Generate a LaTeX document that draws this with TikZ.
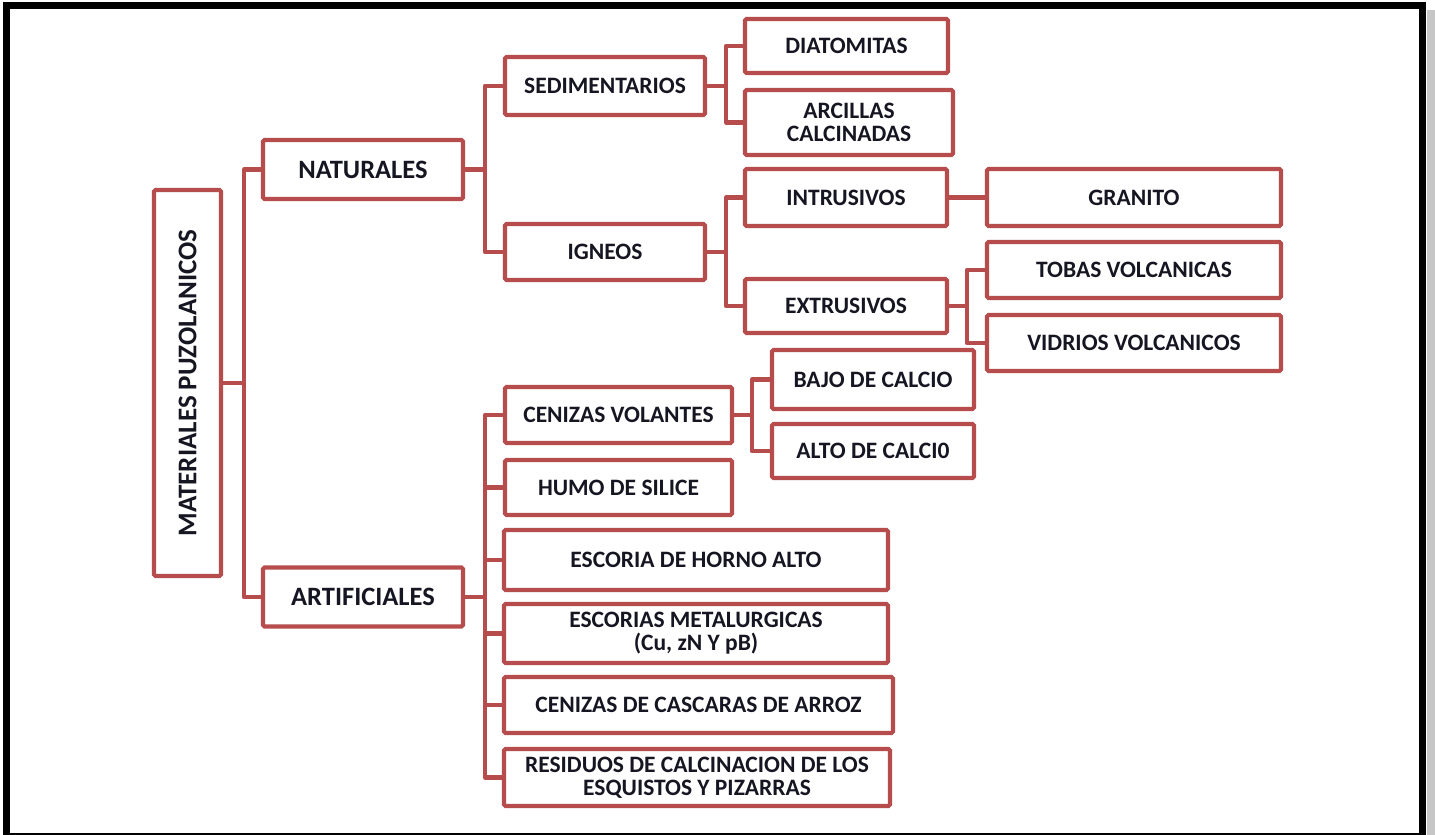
\documentclass[tikz,border=0pt]{standalone}
\usepackage{fontspec}
\setmainfont{Carlito}
\definecolor{boxred}{RGB}{183,76,76}
\definecolor{txt}{RGB}{22,22,34}
\begin{document}
\begin{tikzpicture}[x=1pt,y=-1pt,
  box/.style={draw=boxred,line width=4.2pt,rounded corners=1.5pt,fill=white,inner sep=0pt,outer sep=0pt,
    align=center,text=txt,font=\fontsize{23.5}{23}\selectfont\bfseries},
  bigbox/.style={box,font=\fontsize{26.5}{28}\selectfont\bfseries},
  conn/.style={draw=boxred,line width=4.2pt,line join=round}]
\useasboundingbox (0,0) rectangle (1435,835);
\fill[white] (0,0) rectangle (1435,835);
% frame
\fill[gray!45] (1427,10) rectangle (1435,835);
\draw[line width=7pt,black] (6.5,5) rectangle (1422.5,836);
% nodes
\node[box,minimum width=67,minimum height=386,font=\fontsize{27}{28}\selectfont\bfseries] (main) at (187.5,383) {\rotatebox{90}{MATERIALES PUZOLANICOS}};
\node[bigbox,minimum width=200,minimum height=59] (nat) at (363,169.5) {NATURALES};
\node[bigbox,minimum width=200,minimum height=59] (art) at (363,597) {ARTIFICIALES};
\node[box,minimum width=200,minimum height=58] (sed) at (605,86) {SEDIMENTARIOS};
\node[box,minimum width=200,minimum height=56] (ign) at (605,252) {IGNEOS};
\node[box,minimum width=203,minimum height=54] (dia) at (846.5,46) {DIATOMITAS};
\node[box,minimum width=208,minimum height=65] (arc) at (849,122.5) {ARCILLAS\\CALCINADAS};
\node[box,minimum width=202,minimum height=57] (intr) at (846,197.5) {INTRUSIVOS};
\node[box,minimum width=202,minimum height=54] (extr) at (846,306) {EXTRUSIVOS};
\node[box,minimum width=294,minimum height=57] (gran) at (1134,197.5) {GRANITO};
\node[box,minimum width=294,minimum height=56] (tob) at (1134,270) {TOBAS VOLCANICAS};
\node[box,minimum width=294,minimum height=56] (vid) at (1134,343) {VIDRIOS VOLCANICOS};
\node[box,minimum width=227,minimum height=56] (cen) at (618.5,415) {CENIZAS VOLANTES};
\node[box,minimum width=227,minimum height=55] (hum) at (618.5,487.5) {HUMO DE SILICE};
\node[box,minimum width=202,minimum height=59] (bajo) at (873,379.5) {BAJO DE CALCIO};
\node[box,minimum width=202,minimum height=54] (alto) at (873,451) {ALTO DE CALCI0};
\node[box,minimum width=384,minimum height=60] (esc) at (696,560) {ESCORIA DE HORNO ALTO};
\node[box,minimum width=384,minimum height=59] (met) at (696,633.5) {ESCORIAS METALURGICAS\\(Cu, zN Y pB)};
\node[box,minimum width=389,minimum height=56] (arroz) at (698.5,705) {CENIZAS DE CASCARAS DE ARROZ};
\node[box,minimum width=386,minimum height=57] (res) at (697,777.5) {RESIDUOS DE CALCINACION DE LOS\\ESQUISTOS Y PIZARRAS};
% connectors
\draw[conn] (nat.west) -- ++(-19,0) |- (art.west);
\draw[conn] (main.east) -- ++(23,0);
\draw[conn] (sed.west) -- ++(-20,0) |- (ign.west);
\draw[conn] (nat.east) -- ++(22,0);
\draw[conn] (dia.west) -- ++(-19,0) |- (arc.west);
\draw[conn] (sed.east) -- ++(21,0);
\draw[conn] (intr.west) -- ++(-19,0) |- (extr.west);
\draw[conn] (ign.east) -- ++(21,0);
\draw[conn] (intr.east) -- (gran.west);
\draw[conn] (tob.west) -- ++(-20,0) |- (vid.west);
\draw[conn] (extr.east) -- ++(20,0);
\draw[conn] (cen.west) -- ++(-20,0) |- (res.west);
\draw[conn] (hum.west) -- ++(-20,0);
\draw[conn] (esc.west) -- ++(-20,0);
\draw[conn] (met.west) -- ++(-20,0);
\draw[conn] (arroz.west) -- ++(-20,0);
\draw[conn] (art.east) -- ++(22,0);
\draw[conn] (bajo.west) -- ++(-20,0) |- (alto.west);
\draw[conn] (cen.east) -- ++(20,0);
\end{tikzpicture}
\end{document}
